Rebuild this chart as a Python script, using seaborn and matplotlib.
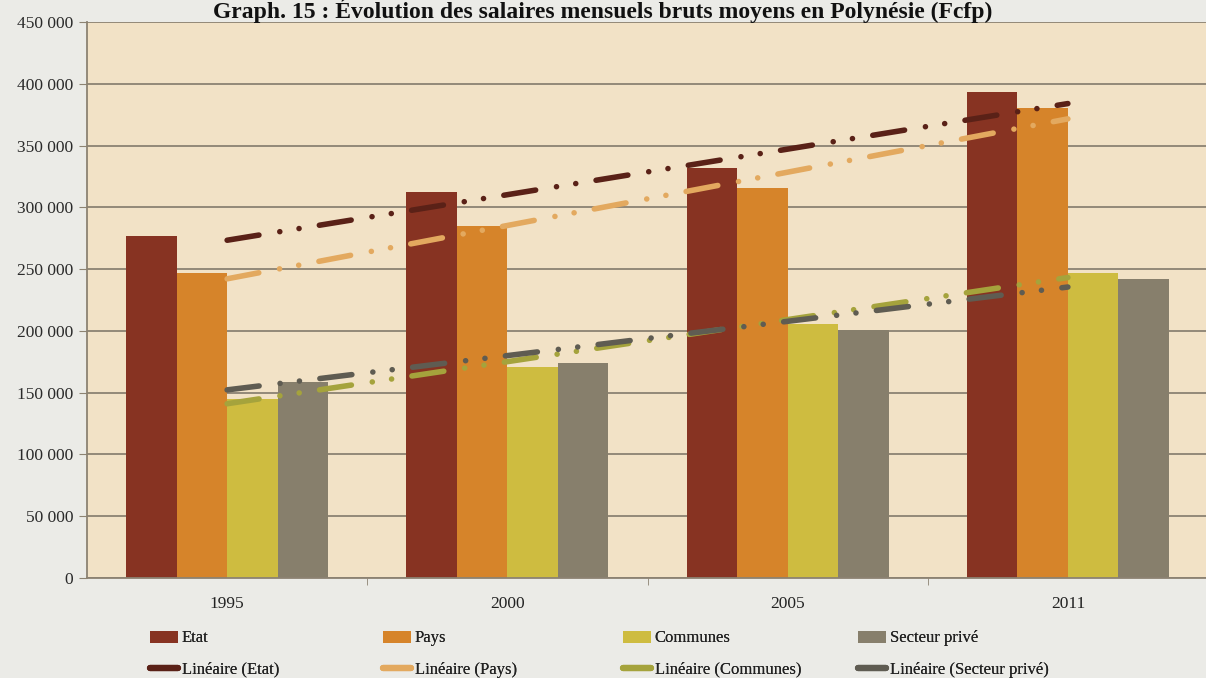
import numpy as np
import pandas as pd
import matplotlib
matplotlib.use("Agg")
import matplotlib.pyplot as plt
import seaborn as sns
from matplotlib.patches import Patch
from matplotlib.lines import Line2D
from matplotlib.ticker import FuncFormatter, FixedLocator

# Data (Fcfp)
years = ["1995", "2000", "2005", "2011"]
series = ["Etat", "Pays", "Communes", "Secteur privé"]
etat = [277000, 312500, 331700, 393500]
pays = [246500, 285000, 316000, 380000]
communes = [145000, 171000, 205500, 247000]
prive = [158500, 174000, 201000, 242000]

bar_colors = ["#873322", "#D6842A", "#CEBC40", "#877F6C"]
trend_colors = ["#5A2117", "#E3A95F", "#A5A33C", "#5F5C52"]

df = pd.DataFrame({
    "Année": years * 4,
    "Série": [s for s in series for _ in years],
    "Salaire": etat + pays + communes + prive,
})

sns.set_style("white")
plt.rcParams["font.family"] = ["Liberation Serif", "DejaVu Serif"]

fig = plt.figure(figsize=(12.06, 6.78), dpi=100)
fig.patch.set_facecolor("#EBEBE7")
ax = fig.add_axes([87 / 1206, 100 / 678, 1121 / 1206, 556 / 678])
ax.set_facecolor("#F2E2C6")

sns.barplot(data=df, x="Année", y="Salaire", hue="Série", palette=bar_colors,
            width=0.72, gap=0, saturation=1, linewidth=0, ax=ax, legend=False, zorder=2)

# Linear trend lines (like the Excel "Linéaire" ones)
xs = np.arange(len(years))
dash = (5.8, 3.8, 0.01, 3.5, 0.01, 3.7)
for vals, c in zip([etat, pays, communes, prive], trend_colors):
    a, b = np.polyfit(xs, vals, 1)
    ax.plot([0, 3], [b, a * 3 + b], color=c, lw=4, dashes=dash,
            solid_capstyle="round", dash_capstyle="round", zorder=5)

ax.set_xlim(-0.5, 3.5)
ax.set_ylim(0, 450000)
ax.yaxis.set_major_locator(FixedLocator(np.arange(0, 450001, 50000)))
ax.yaxis.set_major_formatter(FuncFormatter(lambda v, p: f"{int(v):,}".replace(",", " ")))
ax.grid(axis="y", color="#8C8272", lw=1.3, zorder=1)
ax.set_axisbelow(True)
ax.set_xlabel("")
ax.set_ylabel("")

for s in ["top", "right"]:
    ax.spines[s].set_visible(False)
for s in ["left", "bottom"]:
    ax.spines[s].set_color("#8C8272")
    ax.spines[s].set_linewidth(1.3)

ax.tick_params(axis="y", direction="out", length=6, color="#8C8272", labelsize=12.5,
               labelcolor="#2A2A2A", pad=4, left=True)
ax.tick_params(axis="x", which="major", length=0, labelsize=12.5, labelcolor="#222222", pad=13)
ax.set_xticks([0.5, 1.5, 2.5], minor=True)
ax.tick_params(axis="x", which="minor", direction="out", length=5, color="#8C8272", bottom=True)

fig.text(0.5, 1 - 18 / 678, "Graph. 15 : Évolution des salaires mensuels bruts moyens en Polynésie (Fcfp)",
         ha="center", va="baseline", fontsize=17, fontweight="bold", color="#111111")

# Legend: one small legend per column, like the original
col_x = [150, 383, 623, 858]
for s, bc, tc, x in zip(series, bar_colors, trend_colors, col_x):
    handles = [Patch(facecolor=bc, edgecolor="none"),
               Line2D([0], [0], color=tc, lw=4.5, solid_capstyle="round")]
    labels = [s, f"Linéaire ({s})"]
    leg = fig.legend(handles, labels, loc="center left", bbox_to_anchor=(x / 1206, 1 - 654 / 678),
                     frameon=False, fontsize=12, handlelength=1.7, handletextpad=0.2,
                     labelspacing=0.9, borderpad=0, borderaxespad=0)
    for t in leg.get_texts():
        t.set_color("#222222")
    fig.add_artist(leg)

fig.savefig("out.png", dpi=100, facecolor=fig.get_facecolor())
